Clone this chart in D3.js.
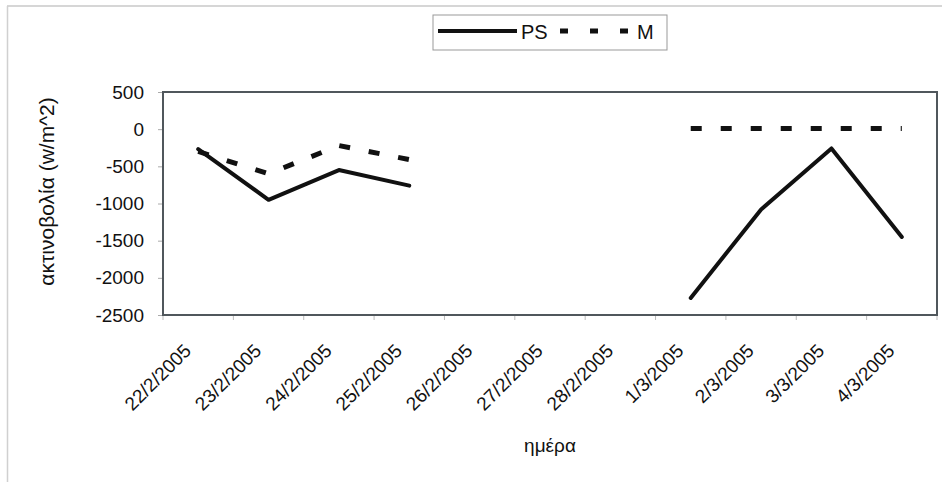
<!DOCTYPE html>
<html>
<head>
<meta charset="utf-8">
<script src="https://cdn.jsdelivr.net/npm/d3@7"></script>
<style>
  html, body { margin: 0; padding: 0; background: #ffffff; }
  svg { display: block; }
  text { font-family: "Liberation Sans", Arial, sans-serif; fill: #111; }
</style>
</head>
<body>
<script>
const categories = ["22/2/2005","23/2/2005","24/2/2005","25/2/2005","26/2/2005","27/2/2005","28/2/2005","1/3/2005","2/3/2005","3/3/2005","4/3/2005"];
const psValues = [-270, -950, -550, -760, null, null, null, -2270, -1080, -260, -1450];
const mValues  = [-300, -600, -220, -410, null, null, null, 10, 10, 10, 10];
const yTicks = [500, 0, -500, -1000, -1500, -2000, -2500];
const seriesNames = ["PS", "M"];
const yTitle = "ακτινοβολία (w/m^2)";
const xTitle = "ημέρα";

const W = 946, H = 486;
const plot = { left: 163, top: 92, right: 937, bottom: 315 };

const svg = d3.select("body").append("svg").attr("width", W).attr("height", H);

// outer chart frame (faint)
svg.append("line").attr("x1", 7).attr("x2", 942).attr("y1", 6).attr("y2", 6)
  .attr("stroke", "#c8c8c8").attr("stroke-width", 1.5);
svg.append("line").attr("x1", 7.5).attr("x2", 7.5).attr("y1", 6).attr("y2", 482)
  .attr("stroke", "#d0d0d0").attr("stroke-width", 1.5);

const x = d3.scaleBand().domain(categories).range([plot.left, plot.right]).padding(0);
const y = d3.scaleLinear().domain([-2500, 500]).range([plot.bottom, plot.top]);
const cx = d => x(d) + x.bandwidth() / 2;

// y axis
const yAxis = d3.axisLeft(y).tickValues(yTicks).tickSize(5).tickPadding(14).tickFormat(d => String(d));
const gy = svg.append("g").attr("transform", `translate(${plot.left},0)`).call(yAxis);
gy.select(".domain").remove();
gy.selectAll(".tick line").attr("stroke", "#aaa");
gy.selectAll(".tick text").attr("font-size", 19).attr("fill", "#111")
  .style("font-family", "'Liberation Sans', Arial, sans-serif");

// x axis ticks at category boundaries
const gx = svg.append("g").attr("transform", `translate(0,${plot.bottom})`);
const bounds = categories.map(c => x(c)).concat([plot.right]);
gx.selectAll("line.tk").data(bounds).enter().append("line")
  .attr("x1", d => d).attr("x2", d => d).attr("y1", 0).attr("y2", 5)
  .attr("stroke", "#bbb");
gx.selectAll("text.lbl").data(categories).enter().append("text")
  .attr("transform", d => `translate(${cx(d) - 6},37) rotate(-45)`)
  .attr("text-anchor", "end")
  .attr("font-size", 19)
  .text(d => d);

// plot frame
svg.append("rect").attr("x", plot.left).attr("y", plot.top)
  .attr("width", plot.right - plot.left).attr("height", plot.bottom - plot.top)
  .attr("fill", "none").attr("stroke", "#50575c").attr("stroke-width", 2);

// lines
const line = d3.line().defined(d => d.v !== null).x(d => cx(d.c)).y(d => y(d.v));
const psData = categories.map((c, i) => ({ c, v: psValues[i] }));
const mData = categories.map((c, i) => ({ c, v: mValues[i] }));

svg.append("path").datum(psData).attr("d", line)
  .attr("fill", "none").attr("stroke", "#111").attr("stroke-width", 4)
  .attr("stroke-linejoin", "round").attr("stroke-linecap", "round");
svg.append("path").datum(mData).attr("d", line)
  .attr("fill", "none").attr("stroke", "#111").attr("stroke-width", 5)
  .attr("stroke-dasharray", "11,19");

// axis titles
svg.append("text").attr("x", (plot.left + plot.right) / 2).attr("y", 452)
  .attr("text-anchor", "middle").attr("font-size", 19).text(xTitle);
svg.append("text").attr("transform", `translate(54,${(plot.top + plot.bottom) / 2 - 12}) rotate(-90)`)
  .attr("text-anchor", "middle").attr("font-size", 21).text(yTitle);

// legend
const lg = svg.append("g");
lg.append("rect").attr("x", 433).attr("y", 15).attr("width", 234).attr("height", 35)
  .attr("fill", "#fff").attr("stroke", "#999").attr("stroke-width", 1);
lg.append("line").attr("x1", 438).attr("x2", 517).attr("y1", 31).attr("y2", 31)
  .attr("stroke", "#111").attr("stroke-width", 4);
lg.append("text").attr("x", 521).attr("y", 39).attr("font-size", 20).text(seriesNames[0]);
lg.append("line").attr("x1", 560).attr("x2", 631).attr("y1", 31).attr("y2", 31)
  .attr("stroke", "#111").attr("stroke-width", 5).attr("stroke-dasharray", "8,22");
lg.append("text").attr("x", 637).attr("y", 39).attr("font-size", 20).text(seriesNames[1]);
</script>
</body>
</html>
